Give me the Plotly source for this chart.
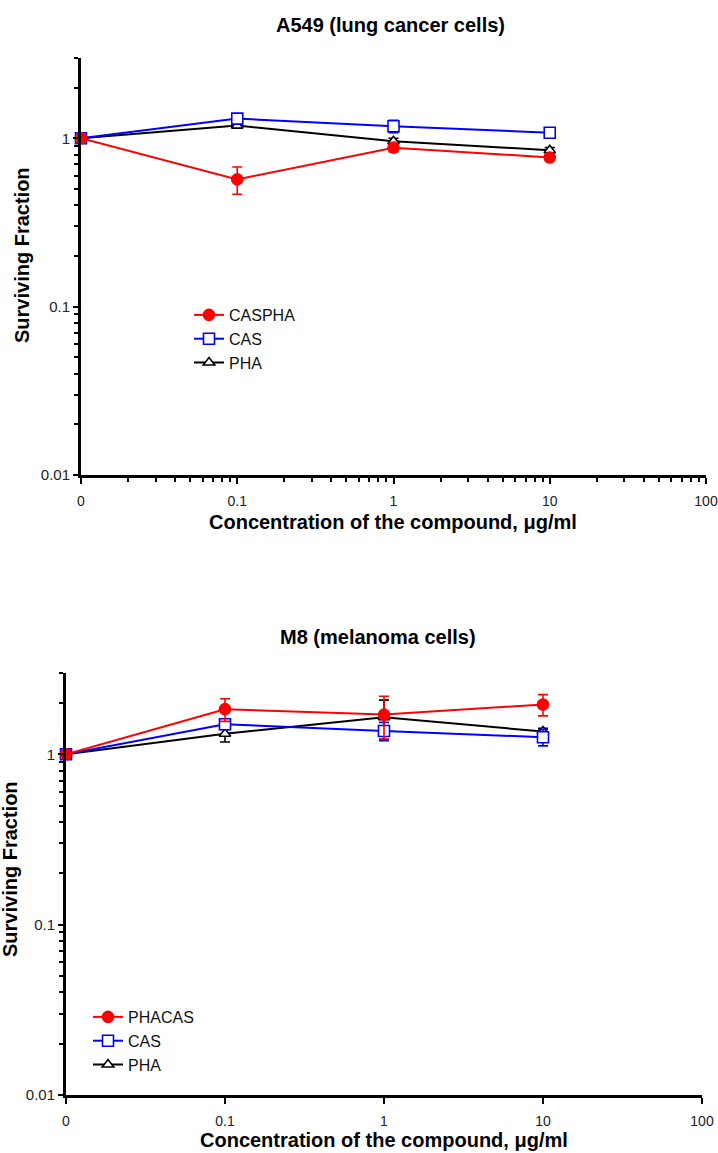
import plotly.graph_objects as go

# ---------------- data ----------------
conc_labels = ["0", "0.1", "1", "10"]
conc = [0.01, 0.1, 1, 10]          # "0" is drawn at the 0.01 position of the log axis

# A549 (lung cancer cells)
a549_caspha = [1.0, 0.57, 0.88, 0.77]
a549_caspha_err = [0.03, 0.105, 0.05, 0.03]
a549_cas = [1.0, 1.31, 1.18, 1.08]
a549_cas_err = [0.03, 0.04, 0.10, 0.05]
a549_pha = [1.0, 1.19, 0.96, 0.85]
a549_pha_err = [0.02, 0.04, 0.04, 0.03]

# M8 (melanoma cells)
m8_phacas = [1.0, 1.84, 1.71, 1.96]
m8_phacas_err = [0.06, 0.28, 0.48, 0.28]
m8_cas = [1.0, 1.50, 1.37, 1.26]
m8_cas_err = [0.05, 0.10, 0.17, 0.14]
m8_pha = [1.0, 1.32, 1.65, 1.36]
m8_pha_err = [0.03, 0.14, 0.43, 0.06]

x_tickvals = [0.01, 0.1, 1, 10, 100]
x_ticktext = ["0", "0.1", "1", "10", "100"]
y_tickvals = [0.01, 0.1, 1]
y_ticktext = ["0.01", "0.1", "1"]

# ---------------- helpers ----------------
W, H = 718, 1153
def fx(px):
    return px / W
def fy(py):
    return 1 - py / H

FONT = "Liberation Sans, Arial, sans-serif"
RED, BLUE, BLACK = "#ff0000", "#0000ff", "#000000"

minor_x = [d * m for d in [0.01, 0.1, 1, 10] for m in range(2, 10)]
minor_y = [d * m for d in [0.01, 0.1, 1] for m in range(2, 10) if d * m <= 3.0001]

fig = go.Figure()

def add_series(x, y, err, name, color, symbol, fill, xa, ya, legend):
    fig.add_trace(go.Scatter(
        x=x, y=y, name=name, mode="lines+markers",
        xaxis=xa, yaxis=ya, legend=legend, legendgroup=legend + name,
        line=dict(color=color, width=2),
        marker=dict(symbol=symbol, size=11 if symbol != "triangle-up" else 10,
                    color=fill, line=dict(color=color, width=1.6)),
        error_y=dict(type="data", array=err, visible=True, color=color,
                     thickness=1.6, width=5),
        cliponaxis=False,
    ))

# drawn back to front: PHA, CAS, then the red series on top
add_series(conc, a549_pha, a549_pha_err, "PHA", BLACK, "triangle-up", "white", "x", "y", "legend")
add_series(conc, a549_cas, a549_cas_err, "CAS", BLUE, "square", "white", "x", "y", "legend")
add_series(conc, a549_caspha, a549_caspha_err, "CASPHA", RED, "circle", RED, "x", "y", "legend")

add_series(conc, m8_pha, m8_pha_err, "PHA", BLACK, "triangle-up", "white", "x2", "y2", "legend2")
add_series(conc, m8_cas, m8_cas_err, "CAS", BLUE, "square", "white", "x2", "y2", "legend2")
add_series(conc, m8_phacas, m8_phacas_err, "PHACAS", RED, "circle", RED, "x2", "y2", "legend2")

xtickfont = dict(family=FONT, size=14, color="#222222")
ytickfont = dict(family=FONT, size=15, color="#222222")

def xaxis(domain, anchor, minor):
    d = dict(type="log", range=[-2, 2], domain=domain, anchor=anchor,
             tickmode="array", tickvals=x_tickvals, ticktext=x_ticktext,
             ticks="outside", ticklen=6, tickwidth=2, tickcolor="black",
             showline=True, linewidth=3, linecolor="black",
             showgrid=False, zeroline=False, tickfont=xtickfont,
             ticklabelstandoff=5, automargin=False)
    if minor:
        d["minor"] = dict(tickmode="array", tickvals=minor_x, ticks="outside",
                          ticklen=4, tickwidth=2, tickcolor="black", showgrid=False)
    return d

def yaxis(domain, anchor):
    return dict(type="log", range=[-2, 0.47712], domain=domain, anchor=anchor,
                tickmode="array", tickvals=y_tickvals, ticktext=y_ticktext,
                ticks="outside", ticklen=5, tickwidth=2, tickcolor="black",
                showline=True, linewidth=3, linecolor="black",
                showgrid=False, zeroline=False, tickfont=ytickfont, automargin=False,
                minor=dict(tickmode="array", tickvals=minor_y, ticks="outside",
                           ticklen=4, tickwidth=2, tickcolor="black", showgrid=False))

legend_font = dict(family=FONT, size=16, color="#111111")

fig.update_layout(
    width=W, height=H, autosize=False,
    margin=dict(l=0, r=0, t=0, b=0, pad=0, autoexpand=False),
    paper_bgcolor="white", plot_bgcolor="white",
    xaxis=xaxis([fx(81), fx(706)], "y", True),
    yaxis=yaxis([fy(475), fy(58)], "x"),
    xaxis2=xaxis([fx(66), fx(702)], "y2", False),
    yaxis2=yaxis([fy(1095), fy(673)], "x2"),
    legend=dict(x=fx(189), y=fy(298), xanchor="left", yanchor="top",
                traceorder="reversed", font=legend_font, bgcolor="rgba(0,0,0,0)",
                tracegroupgap=2, itemwidth=30),
    legend2=dict(x=fx(88), y=fy(1000), xanchor="left", yanchor="top",
                 traceorder="reversed", font=legend_font, bgcolor="rgba(0,0,0,0)",
                 tracegroupgap=2, itemwidth=30),
    showlegend=True,
)

bold = dict(family=FONT, size=20, color="black")
annots = [
    dict(text="<b>A549 (lung cancer cells)</b>", x=fx(390), y=fy(25)),
    dict(text="<b>M8 (melanoma cells)</b>", x=fx(378), y=fy(637)),
    dict(text="<b>Concentration of the compound, μg/ml</b>", x=fx(393), y=fy(522)),
    dict(text="<b>Concentration of the compound, μg/ml</b>", x=fx(384), y=fy(1140)),
    dict(text="<b>Surviving Fraction</b>", x=fx(22), y=fy(255), textangle=-90),
    dict(text="<b>Surviving Fraction</b>", x=fx(10), y=fy(869), textangle=-90),
]
for a in annots:
    fig.add_annotation(xref="paper", yref="paper", showarrow=False,
                       xanchor="center", yanchor="middle", font=bold, **a)

fig.write_html("out.html", config={"displayModeBar": False},
               post_script="document.body.style.margin='0';")
